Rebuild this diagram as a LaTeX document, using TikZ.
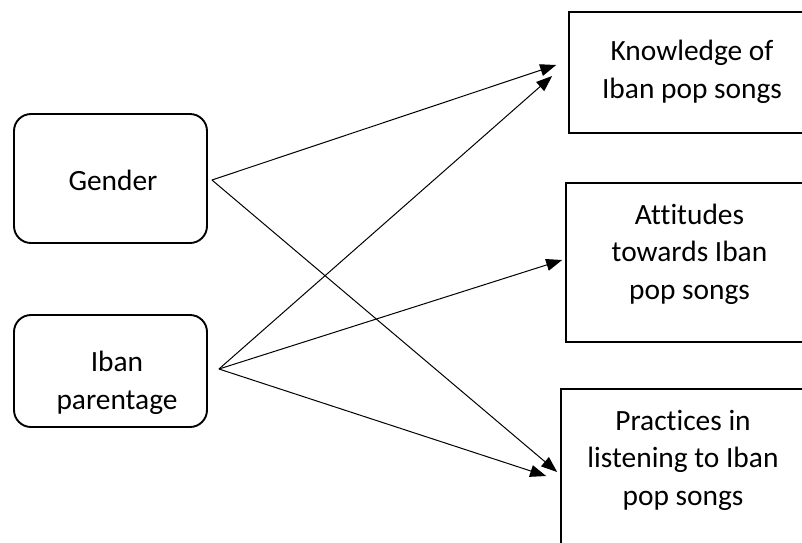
\documentclass[tikz,border=0pt]{standalone}
\usepackage{fontspec}
\setmainfont{Carlito}[Ligatures={NoCommon}]
\usetikzlibrary{arrows.meta}
\begin{document}
\begin{tikzpicture}[x=1pt,y=-1pt,
 rbox/.style={draw, line width=1.9pt, rounded corners=17pt, inner sep=0pt},
 sbox/.style={draw, line width=1.7pt, inner sep=0pt},
 lbl/.style={font=\fontsize{29.4}{37.5}\selectfont, align=center, inner sep=0pt},
 arr/.style={line width=1pt, -{Triangle[length=16pt,width=12pt]}}]
\useasboundingbox (0,0) rectangle (802,542);
\clip (0,0) rectangle (802,542);
% boxes
\node[rbox, minimum width=193pt, minimum height=129pt] (gender) at (110.5,178.5) {};
\node[rbox, minimum width=193pt, minimum height=112pt] (iban) at (110.5,371) {};
\node[sbox, minimum width=246pt, minimum height=121pt] (know) at (692,72.5) {};
\node[sbox, minimum width=247pt, minimum height=159pt] (att) at (689.5,262.5) {};
\node[sbox, minimum width=244pt, minimum height=171pt] (prac) at (683,474.5) {};
% texts
\node[lbl] (genderT) at (113,180) {Gender};
\node[lbl] (ibanT) at (117,383) {Iban\\parentage};
\node[lbl] (knowT) at (692,72) {Knowledge of\\Iban pop songs};
\node[lbl] (attT) at (689.5,254) {Attitudes\\towards Iban\\pop songs};
\node[lbl] (pracT) at (683,460) {Practices in\\listening to Iban\\pop songs};
% connector ends
\coordinate (gs) at ([shift={(4,1.5)}]gender.east);
\coordinate (is) at ([shift={(11,-2)}]iban.east);
\coordinate (k1) at ([shift={(-12,-7.5)}]know.west);
\coordinate (k2) at ([shift={(-16,3.5)}]know.west);
\coordinate (a1) at ([shift={(-3,-2.5)}]att.west);
\coordinate (p1) at ([shift={(-3,-2.5)}]prac.west);
\coordinate (p2) at ([shift={(-14,1.5)}]prac.west);
% connectors
\draw[arr] (gs) -- (k1);
\draw[arr] (gs) -- (p1);
\draw[arr] (is) -- (k2);
\draw[arr] (is) -- (a1);
\draw[arr] (is) -- (p2);
\end{tikzpicture}
\end{document}
